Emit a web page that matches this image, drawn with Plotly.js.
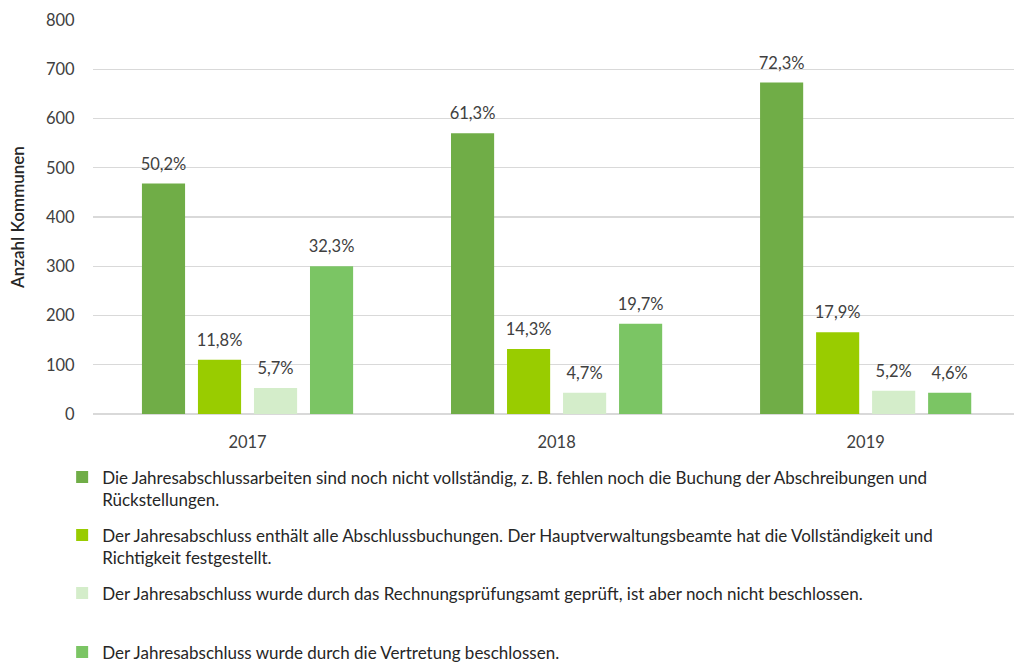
<!DOCTYPE html>
<html>
<head>
<meta charset="utf-8">
<script src="https://cdn.plot.ly/plotly-3.0.1.min.js"></script>
<style>
html,body{margin:0;padding:0;overflow:hidden;background:#fff;}
#chart{width:1014px;height:662px;}
</style>
</head>
<body>
<div id="chart"></div>
<script>
const years = ["2017", "2018", "2019"];
const seriesNames = [
  "Die Jahresabschlussarbeiten sind noch nicht vollständig, z. B. fehlen noch die Buchung der Abschreibungen und<br>Rückstellungen.",
  "Der Jahresabschluss enthält alle Abschlussbuchungen. Der Hauptverwaltungsbeamte hat die Vollständigkeit und<br>Richtigkeit festgestellt.",
  "Der Jahresabschluss wurde durch das Rechnungsprüfungsamt geprüft, ist aber noch nicht beschlossen.",
  "Der Jahresabschluss wurde durch die Vertretung beschlossen."
];
const nichtVollstaendig = [468, 570, 673];
const festgestellt = [110, 132, 166];
const geprueft = [53, 43, 47];
const beschlossen = [300, 183, 43];
const pctNichtVollstaendig = ["50,2%", "61,3%", "72,3%"];
const pctFestgestellt = ["11,8%", "14,3%", "17,9%"];
const pctGeprueft = ["5,7%", "4,7%", "5,2%"];
const pctBeschlossen = ["32,3%", "19,7%", "4,6%"];
const colors = ["#70AD47", "#99CC00", "#D4EDCA", "#7BC564"];

const values = [nichtVollstaendig, festgestellt, geprueft, beschlossen];
const pcts = [pctNichtVollstaendig, pctFestgestellt, pctGeprueft, pctBeschlossen];
const legendIds = ["legend", "legend2", "legend3", "legend4"];
const FONT = "Lato, 'Open Sans', sans-serif";
const LABEL_LIFT = 14; // gap (axis units) between bar top and its label

const traces = [];
values.forEach((v, i) => {
  traces.push({
    type: "bar",
    x: years,
    y: v,
    name: seriesNames[i],
    legend: legendIds[i],
    offsetgroup: "g" + i,
    marker: {color: colors[i]},
    hoverinfo: "skip"
  });
});
// transparent label carriers sitting on top of each bar (same slot), text outside
values.forEach((v, i) => {
  traces.push({
    type: "bar",
    x: years,
    y: v.map(() => LABEL_LIFT),
    base: v,
    offsetgroup: "g" + i,
    showlegend: false,
    marker: {color: "rgba(0,0,0,0)"},
    text: pcts[i],
    textposition: "outside",
    constraintext: "none",
    cliponaxis: false,
    textfont: {family: FONT, size: 16.5, color: "#404040"},
    hoverinfo: "skip"
  });
});

const legendY = [-0.1155, -0.2627, -0.4099, -0.5597];
const legendBase = {
  x: -0.0335, xanchor: "left", yanchor: "top",
  font: {family: FONT, size: 17, color: "#262626"},
  bgcolor: "rgba(0,0,0,0)", valign: "top", itemclick: false, itemdoubleclick: false
};
const layout = {
  width: 1014, height: 662,
  margin: {l: 93, r: 0, t: 20, b: 248, autoexpand: false},
  paper_bgcolor: "#fff", plot_bgcolor: "#fff",
  barmode: "group", bargap: 0.275, bargroupgap: 0.23,
  font: {family: FONT, color: "#404040"},
  xaxis: {
    type: "category", range: [-0.5, 2.48],
    showgrid: false, zeroline: false, showline: false,
    ticks: "outside", ticklen: 13, tickcolor: "rgba(0,0,0,0)",
    tickfont: {family: FONT, size: 16.5, color: "#404040"}
  },
  yaxis: {
    range: [0, 800], dtick: 100,
    showgrid: true, gridcolor: "#D9D9D9", gridwidth: 1.3,
    zeroline: true, zerolinecolor: "#D9D9D9", zerolinewidth: 1.3,
    showline: false,
    ticks: "outside", ticklen: 14, tickcolor: "rgba(0,0,0,0)",
    tickfont: {family: FONT, size: 16.5, color: "#404040"},
    title: {text: "Anzahl Kommunen", font: {family: FONT, size: 17, color: "#262626", weight: 600}, standoff: 17}
  },
  showlegend: true
};
legendIds.forEach((id, i) => {
  layout[id] = Object.assign({}, legendBase, {y: legendY[i]});
});

Plotly.newPlot("chart", traces, layout, {displayModeBar: false, staticPlot: true});
</script>
</body>
</html>
